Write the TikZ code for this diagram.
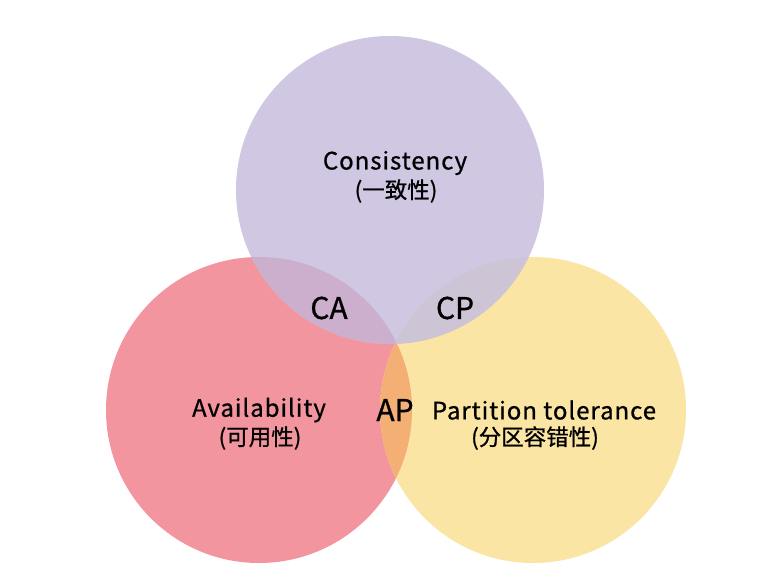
\documentclass[tikz,border=0pt]{standalone}
\usepackage{fontspec}
\setmainfont[FakeBold=0.8]{Noto Sans CJK SC}
\newfontfamily\widefont[LetterSpace=4,FakeBold=0.8]{Noto Sans CJK SC}
\definecolor{colC}{HTML}{D0C7E3}
\definecolor{colA}{HTML}{F2959E}
\definecolor{colP}{HTML}{FBE5A4}
\definecolor{colCA}{HTML}{CBAFCD}
\definecolor{colCP}{HTML}{CDC4D6}
\definecolor{colAP}{HTML}{F4B074}
\tikzset{
  main/.style={font=\widefont\fontsize{24}{26}\selectfont, align=center, inner sep=0pt},
  sub/.style={font=\fontsize{22.5}{24}\selectfont, inner sep=0pt},
  pair/.style={font=\fontsize{30}{32}\selectfont, inner sep=0pt}
}
\begin{document}
\begin{tikzpicture}[x=1pt,y=-1pt]
\fill[white] (0,0) rectangle (775,572);
\useasboundingbox (0,0) rectangle (775,572);
\coordinate (cA) at (259,410);
\coordinate (cP) at (533,410);
\coordinate (cC) at (390,190);
\fill[colA] (cA) circle[radius=153pt];
\fill[colP] (cP) circle[radius=153pt];
\begin{scope}
  \clip (cA) circle[radius=153pt];
  \fill[colAP] (cP) circle[radius=153pt];
\end{scope}
\fill[colC] (cC) circle[radius=154pt];
\begin{scope}
  \clip (cC) circle[radius=154pt];
  \fill[colCA] (cA) circle[radius=153pt];
  \fill[colCP] (cP) circle[radius=153pt];
\end{scope}
\node[main] (cons) at (395,163) {Consistency};
\node[sub] (consz) at (396,191) {(一致性)};
\node[main] (avail) at (259,410) {Availability};
\node[sub] (availz) at (260,438) {(可用性)};
\node[main] (part) at (544,410) {Partition tolerance};
\node[sub] (partz) at (535,438) {(分区容错性)};
\node[pair] (ca) at (329,308) {CA};
\node[pair] (cp) at (455,308) {CP};
\node[pair] (ap) at (395,410) {AP};
\end{tikzpicture}
\end{document}
